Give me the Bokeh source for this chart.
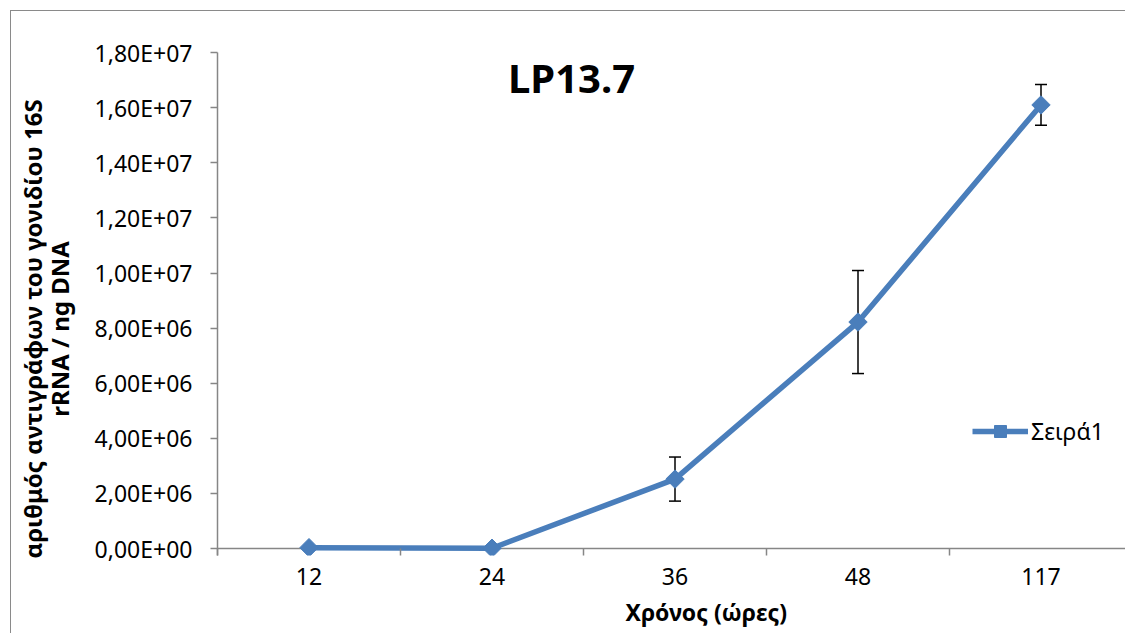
import numpy as np
from bokeh.plotting import figure
from bokeh.models import (ColumnDataSource, Range1d, FixedTicker, CustomJSTickFormatter,
                          Whisker, TeeHead, Label, Legend, LegendItem, Span, Title)
from bokeh.embed import file_html
from bokeh.resources import INLINE

# ---------------- data ----------------
hours = ["12", "24", "36", "48", "117"]
copies = [3.0e4, 1.0e4, 2.52e6, 8.22e6, 1.61e7]
errors = [0.0, 0.0, 0.80e6, 1.87e6, 0.74e6]
y_ticks = [0, 2e6, 4e6, 6e6, 8e6, 1.0e7, 1.2e7, 1.4e7, 1.6e7, 1.8e7]
series_name = "Σειρά1"
chart_title = "LP13.7"
x_title = "Χρόνος (ώρες)"
y_title_1 = "αριθμός αντιγράφων του γονιδίου 16S"
y_title_2 = "rRNA / ng DNA"

# ---------------- layout constants ----------------
FONT = "Noto Sans"
BLUE = "#4a7ebb"
AXIS = "#868686"
OFF = 11  # page offset of the outer border (margin + border)
FRAME_L, FRAME_T, FRAME_B = 217, 52, 555
ZERO_PX = 548
W, H = 1126, 634
CAT_W = 183.0
Y_PER_PX = 2e6 / 55.1
PAD = "\u00a0" * 8  # invisible trailing room: moves the rotated title down a little

x_pos = [i + 1 for i in range(len(hours))]
x_end = 0.5 + (W - FRAME_L) / CAT_W
y_start = -(FRAME_B - ZERO_PX) * Y_PER_PX
y_end = (ZERO_PX - FRAME_T) * Y_PER_PX

src = ColumnDataSource(dict(x=x_pos, y=copies))
ex = [x for x, e in zip(x_pos, errors) if e > 0]
ey = [y for y, e in zip(copies, errors) if e > 0]
ee = [e for e in errors if e > 0]
err_src = ColumnDataSource(dict(x=ex, lower=[a - b for a, b in zip(ey, ee)],
                                upper=[a + b for a, b in zip(ey, ee)]))

p = figure(width=W - OFF, height=H - OFF, output_backend="svg", toolbar_location=None,
           x_range=Range1d(0.5, x_end), y_range=Range1d(y_start, y_end),
           min_border_left=FRAME_L - OFF, min_border_top=FRAME_T - OFF,
           min_border_bottom=H - FRAME_B, min_border_right=0)
p.styles = {"margin-left": "10px", "margin-top": "10px",
            "border-left": "1px solid #8a8a8a", "border-top": "1px solid #8a8a8a"}
p.outline_line_color = None
p.xgrid.visible = False
p.ygrid.visible = False
p.background_fill_color = "white"
p.border_fill_color = "white"

# x axis (category style): ticks at category boundaries, labels at centres
xa = p.xaxis[0]
xa.ticker = FixedTicker(ticks=x_pos, minor_ticks=[v - 0.5 for v in x_pos] + [x_pos[-1] + 0.5])
xa.major_label_overrides = {x: h for x, h in zip(x_pos, hours)}
xa.axis_line_color = None
xa.major_tick_out = 0
xa.major_tick_in = 0
xa.minor_tick_out = 0
xa.minor_tick_in = FRAME_B - ZERO_PX
xa.minor_tick_line_color = AXIS
xa.minor_tick_line_width = 1.5
xa.major_label_standoff = 12
xa.major_label_text_font = FONT
xa.major_label_text_font_size = "23px"
xa.major_label_text_color = "black"

zero_line = Span(location=0, dimension="width", line_color=AXIS, line_width=1.5,
                 level="underlay")
p.add_layout(zero_line)

ya = p.yaxis[0]
ya.ticker = FixedTicker(ticks=y_ticks, minor_ticks=[])
ya.formatter = CustomJSTickFormatter(code="""
var s = tick.toExponential(2).split('e');
var e = parseInt(s[1]); var sign = e < 0 ? '-' : '+'; e = Math.abs(e);
return s[0].replace('.', ',') + 'E' + sign + (e < 10 ? '0' : '') + e;
""")
ya.major_tick_out = 7
ya.major_tick_in = 0
ya.minor_tick_out = 0
ya.minor_tick_in = 0
ya.major_tick_line_color = AXIS
ya.axis_line_color = AXIS
ya.axis_line_width = 1.5
ya.major_tick_line_width = 1.5
ya.major_label_standoff = 18
ya.major_label_text_font = FONT
ya.major_label_text_font_size = "23px"
ya.major_label_text_color = "black"
ya.axis_label = y_title_1 + PAD + "\n" + y_title_2 + PAD
ya.axis_label_text_font = FONT
ya.axis_label_text_font_size = "24px"
ya.axis_label_text_font_style = "bold"
ya.axis_label_text_color = "black"
ya.axis_label_text_line_height = 0.8
ya.axis_label_standoff = 16

# x axis title, shifted right like the reference
p.add_layout(Title(text=x_title, align="left", offset=625 - FRAME_L, standoff=13,
                   text_font=FONT, text_font_size="23px", text_font_style="bold",
                   text_color="black"), "below")

# error bars
wh = Whisker(base="x", lower="lower", upper="upper", source=err_src,
             line_color="black", line_width=1.5, level="underlay",
             upper_head=TeeHead(size=12, line_color="black", line_width=1.5),
             lower_head=TeeHead(size=12, line_color="black", line_width=1.5))
p.add_layout(wh)

line_r = p.line("x", "y", source=src, line_color=BLUE, line_width=5.5, line_join="round")
scat_r = p.scatter("x", "y", source=src, marker="square", angle=np.pi / 4, size=13,
                   fill_color=BLUE, line_color=BLUE)

legend = Legend(items=[LegendItem(label=series_name, renderers=[line_r, scat_r])],
                location=(755, FRAME_B - 447), border_line_color=None, background_fill_alpha=0,
                padding=0, margin=0, spacing=0, glyph_width=56, glyph_height=30,
                label_standoff=3, label_text_font=FONT, label_text_font_size="23px",
                label_text_color="black")
p.add_layout(legend)

# chart title inside the plot area (screen units from the frame's bottom-left)
p.add_layout(Label(x=571 - FRAME_L, y=FRAME_B - 77, x_units="screen", y_units="screen",
                   text=chart_title, text_font=FONT,
                   text_font_size="40px", text_font_style="bold", text_align="center",
                   text_baseline="alphabetic", text_color="black"))

open("out.html", "w").write(file_html(p, INLINE))
